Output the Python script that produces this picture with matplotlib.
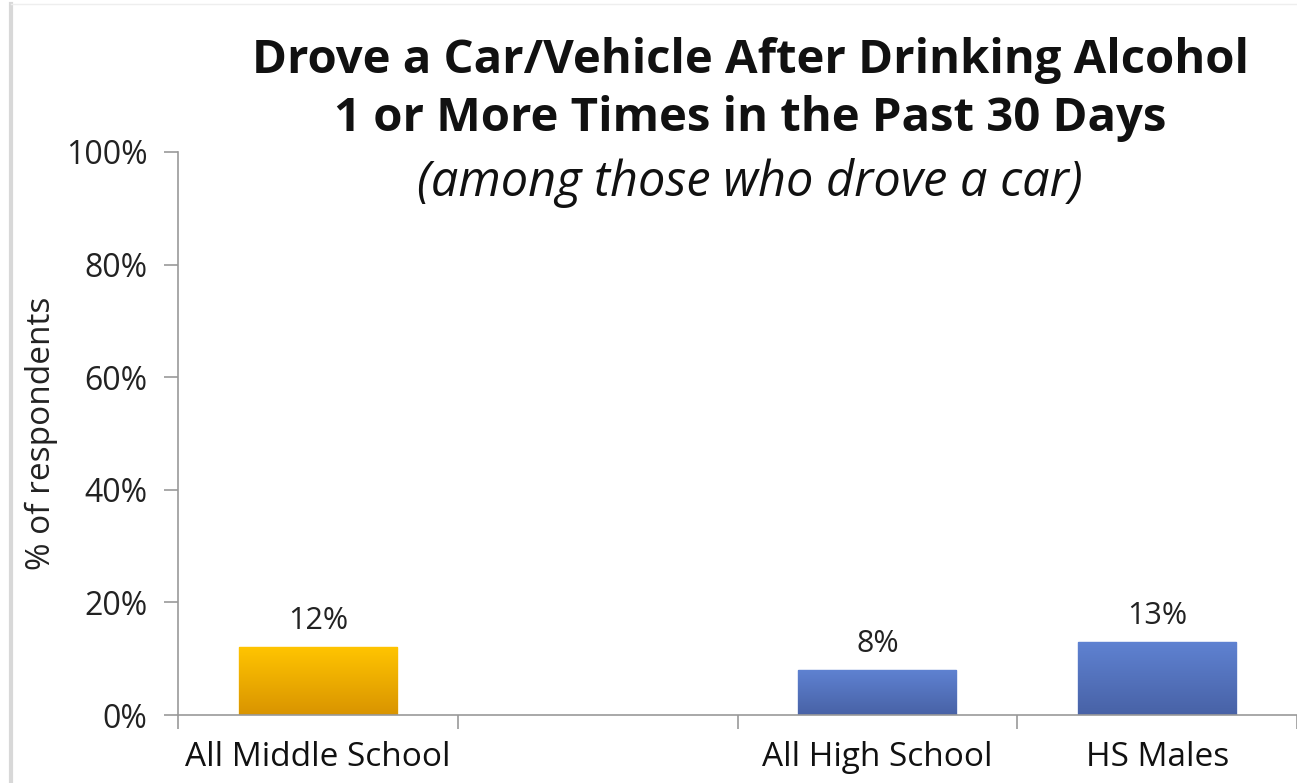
import numpy as np
import matplotlib
matplotlib.use("Agg")
import matplotlib.pyplot as plt
from matplotlib.colors import LinearSegmentedColormap
from matplotlib.lines import Line2D

# chart data
categories = ["All Middle School", "", "All High School", "HS Males"]
values = [12, np.nan, 8, 13]
bar_kind = ["ms", None, "hs", "hs"]
yticks = [0, 20, 40, 60, 80, 100]

title1 = "Drove a Car/Vehicle After Drinking Alcohol"
title2 = "1 or More Times in the Past 30 Days"
subtitle = "(among those who drove a car)"

grads = {
    "ms": LinearSegmentedColormap.from_list("ms", ["#D99400", "#FFC400"]),
    "hs": LinearSegmentedColormap.from_list("hs", ["#4862A6", "#5F82D2"]),
}
edge = {"ms": "#FFC000", "hs": "#5B7FCF"}

plt.rcParams["font.family"] = ["Open Sans", "DejaVu Sans"]

fig = plt.figure(figsize=(12.97, 7.83), dpi=100)
ax = fig.add_axes([178 / 1297, 1 - 715 / 783, 1 - 178 / 1297, (715 - 152) / 783])

x = np.arange(len(categories))
width = 0.565
for xi, v, k in zip(x, values, bar_kind):
    if k is None or np.isnan(v):
        continue
    bar = ax.bar(xi, v, width=width, color=edge[k], edgecolor=edge[k],
                 linewidth=1, zorder=2)[0]
    grad = np.linspace(0, 1, 100).reshape(-1, 1)
    im = ax.imshow(grad, cmap=grads[k], origin="lower", aspect="auto",
                   extent=[xi - width / 2, xi + width / 2, 0, v], zorder=2.5)
    im.set_clip_path(bar)
    ax.text(xi, v + 2.0, f"{v:.0f}%", ha="center", va="bottom",
            fontsize=22, color="#222222")

ax.set_xlim(-0.5, len(categories) - 0.5)
ax.set_ylim(0, 100)
ax.set_yticks(yticks)
ax.set_yticklabels([f"{t}%" for t in yticks], fontsize=23, color="#222222")
ax.set_xticks(x)
ax.set_xticklabels(categories, fontsize=24, color="#111111")
ax.set_xticks(np.arange(-0.5, len(categories), 1.0), minor=True)
ax.tick_params(axis="x", which="major", length=0, pad=19)
ax.tick_params(axis="x", which="minor", length=10, direction="out", color="#999999", width=1.2)
ax.tick_params(axis="y", length=10, direction="out", color="#999999", width=1.2, pad=12)

for s in ["top", "right"]:
    ax.spines[s].set_visible(False)
for s in ["left", "bottom"]:
    ax.spines[s].set_color("#999999")
    ax.spines[s].set_linewidth(1.2)

ax.set_ylabel("% of respondents", fontsize=24, color="#222222")
ax.yaxis.set_label_coords(-0.107, 0.5)

fig.text(750 / 1297, 1 - 60 / 783, title1, ha="center", va="center",
         fontsize=34, fontweight="bold", color="#111111")
fig.text(750 / 1297, 1 - 118 / 783, title2, ha="center", va="center",
         fontsize=34, fontweight="bold", color="#111111")
fig.text(750 / 1297, 1 - 183 / 783, subtitle, ha="center", va="center",
         fontsize=35, style="italic", color="#111111")

# faint page edge
fig.add_artist(Line2D([11 / 1297, 11 / 1297], [0, 0.995], transform=fig.transFigure,
                      color="#D8D8D8", linewidth=3))
fig.add_artist(Line2D([11 / 1297, 1], [0.995, 0.995], transform=fig.transFigure,
                      color="#EEEEEE", linewidth=1))

fig.savefig("out.png", dpi=100)
